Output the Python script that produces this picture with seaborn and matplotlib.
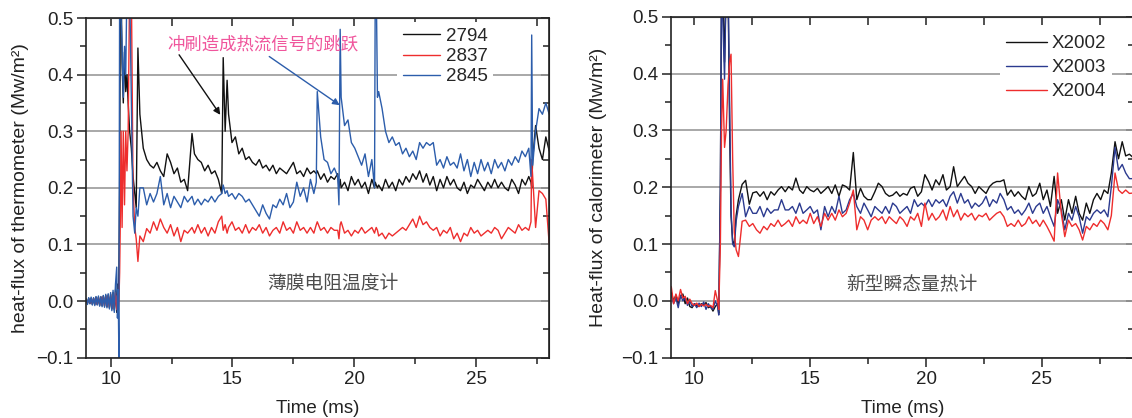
import matplotlib
matplotlib.use('Agg')
import matplotlib.pyplot as plt
import seaborn as sns
from matplotlib.ticker import MultipleLocator, FuncFormatter

# ---------------- left panel: thin-film thermometers ----------------
t_left_pre = [9.00, 9.05, 9.10, 9.15, 9.20, 9.25, 9.30, 9.35, 9.40, 9.45,
              9.50, 9.55, 9.60, 9.65, 9.70, 9.75, 9.80, 9.85, 9.90, 9.95,
              10.00, 10.05, 10.10, 10.15, 10.20, 10.25,
              10.28, 10.31, 10.34, 10.37, 10.40, 10.43, 10.47, 10.52, 10.57,
              10.62, 10.67, 10.72, 10.78, 10.85, 10.92, 10.99, 11.05, 11.12]
t_left_body = [11.20, 11.34, 11.48, 11.62, 11.76, 11.90, 12.04, 12.18, 12.32, 12.46,
               12.60, 12.74, 12.88, 13.02, 13.16, 13.34, 13.44, 13.58, 13.72, 13.86,
               14.00, 14.14, 14.28, 14.42, 14.56, 14.62, 14.70, 14.78, 14.84, 14.98,
               15.12, 15.26, 15.40, 15.54, 15.68, 15.82, 15.96, 16.10, 16.24, 16.38,
               16.52, 16.66, 16.80, 16.94, 17.08, 17.22, 17.36, 17.50, 17.64, 17.78,
               17.92, 18.06, 18.20, 18.34, 18.44, 18.48, 18.62, 18.76, 18.90, 19.04,
               19.18, 19.32, 19.37, 19.42, 19.46, 19.60, 19.74, 19.88, 20.02, 20.16,
               20.30, 20.44, 20.58, 20.72, 20.83, 20.86, 20.90, 20.95, 21.00, 21.14,
               21.28, 21.42, 21.56, 21.70, 21.84, 21.98, 22.12, 22.26, 22.40, 22.54,
               22.68, 22.82, 22.96, 23.10, 23.24, 23.38, 23.52, 23.66, 23.80, 23.94,
               24.08, 24.22, 24.36, 24.50, 24.64, 24.78, 24.92, 25.06, 25.20, 25.34,
               25.48, 25.62, 25.76, 25.90, 26.04, 26.18, 26.32, 26.46, 26.60, 26.74,
               26.88, 27.02, 27.16, 27.25, 27.28, 27.32, 27.44, 27.58, 27.72, 27.86,
               28.00]

s2794_pre = [0.003, -0.004, 0.005, -0.004, 0.005, -0.006, 0.005, -0.006, 0.007, -0.006,
             0.007, -0.008, 0.007, -0.008, 0.009, -0.009, 0.010, -0.010, 0.011, -0.012,
             0.012, -0.014, 0.015, -0.016, 0.020, -0.020,
             0.03, -0.02, 0.05, 0.20, 0.56, 0.56, 0.42, 0.35, 0.44, 0.37, 0.40, 0.35,
             0.30, 0.27, 0.22, 0.19, 0.165, 0.447]
s2794_body = [0.33, 0.27, 0.25, 0.24, 0.235, 0.245, 0.23, 0.22, 0.26, 0.245,
              0.225, 0.235, 0.21, 0.215, 0.195, 0.296, 0.26, 0.25, 0.245, 0.23,
              0.24, 0.225, 0.23, 0.215, 0.19, 0.43, 0.30, 0.39, 0.33, 0.28,
              0.29, 0.26, 0.27, 0.25, 0.255, 0.245, 0.24, 0.25, 0.235, 0.24,
              0.23, 0.24, 0.225, 0.235, 0.23, 0.225, 0.235, 0.245, 0.225, 0.23,
              0.22, 0.235, 0.225, 0.23, 0.225, 0.23, 0.215, 0.225, 0.21, 0.22,
              0.215, 0.225, 0.20, 0.215, 0.20, 0.21, 0.195, 0.22, 0.205, 0.215,
              0.20, 0.21, 0.19, 0.215, 0.20, 0.21, 0.205, 0.20, 0.205, 0.195,
              0.215, 0.20, 0.21, 0.195, 0.215, 0.205, 0.22, 0.21, 0.225, 0.215,
              0.23, 0.21, 0.225, 0.205, 0.22, 0.195, 0.215, 0.20, 0.22, 0.205,
              0.215, 0.20, 0.195, 0.21, 0.19, 0.205, 0.20, 0.215, 0.205, 0.195,
              0.21, 0.20, 0.215, 0.20, 0.21, 0.20, 0.195, 0.215, 0.205, 0.19,
              0.215, 0.205, 0.22, 0.21, 0.20, 0.25, 0.31, 0.27, 0.25, 0.29,
              0.265]

s2837_pre = [0.002, -0.003, 0.003, -0.004, 0.004, -0.004, 0.005, -0.005, 0.005, -0.006,
             0.006, -0.006, 0.007, -0.007, 0.008, -0.008, 0.008, -0.009, 0.009, -0.010,
             0.010, -0.012, 0.012, -0.013, 0.015, -0.015,
             0.01, -0.02, 0.00, 0.05, 0.15, 0.30, 0.13, 0.30, 0.17, 0.30, 0.23, 0.30,
             0.56, 0.56, 0.20, 0.13, 0.11, 0.07]
s2837_body = [0.115, 0.105, 0.128, 0.12, 0.14, 0.125, 0.145, 0.13, 0.12, 0.135,
              0.115, 0.13, 0.105, 0.125, 0.12, 0.13, 0.12, 0.135, 0.12, 0.13,
              0.115, 0.13, 0.12, 0.14, 0.15, 0.125, 0.135, 0.12, 0.13, 0.14,
              0.125, 0.13, 0.12, 0.135, 0.12, 0.13, 0.125, 0.135, 0.12, 0.13,
              0.115, 0.125, 0.13, 0.12, 0.14, 0.125, 0.13, 0.12, 0.14, 0.125,
              0.13, 0.12, 0.13, 0.12, 0.135, 0.14, 0.125, 0.13, 0.12, 0.13,
              0.125, 0.125, 0.11, 0.135, 0.14, 0.12, 0.125, 0.115, 0.125, 0.12,
              0.13, 0.12, 0.125, 0.13, 0.12, 0.125, 0.13, 0.125, 0.115, 0.12,
              0.11, 0.12, 0.115, 0.12, 0.125, 0.13, 0.125, 0.135, 0.145, 0.13,
              0.15, 0.135, 0.14, 0.13, 0.125, 0.13, 0.115, 0.125, 0.12, 0.13,
              0.11, 0.12, 0.105, 0.12, 0.115, 0.13, 0.12, 0.125, 0.115, 0.12,
              0.125, 0.12, 0.13, 0.125, 0.11, 0.12, 0.13, 0.125, 0.12, 0.135,
              0.125, 0.13, 0.125, 0.14, 0.25, 0.22, 0.13, 0.195, 0.19, 0.18,
              0.10]

s2845_pre = [0.004, -0.006, 0.006, -0.005, 0.007, -0.007, 0.006, -0.008, 0.008, -0.007,
             0.009, -0.009, 0.008, -0.010, 0.010, -0.011, 0.012, -0.012, 0.013, -0.014,
             0.015, -0.017, 0.019, -0.020, 0.030, 0.060,
             -0.03, 0.02, -0.10, 0.56, 0.56, 0.50, 0.45, 0.36, 0.45, 0.40, 0.56, 0.56,
             0.56, 0.35, 0.15, 0.12, 0.165, 0.15]
s2845_body = [0.20, 0.20, 0.17, 0.19, 0.175, 0.19, 0.22, 0.17, 0.19, 0.165,
              0.185, 0.175, 0.165, 0.185, 0.175, 0.185, 0.17, 0.18, 0.17, 0.18,
              0.175, 0.185, 0.175, 0.185, 0.19, 0.205, 0.19, 0.195, 0.185, 0.19,
              0.18, 0.19, 0.185, 0.175, 0.18, 0.17, 0.16, 0.15, 0.17, 0.155,
              0.145, 0.17, 0.165, 0.18, 0.17, 0.19, 0.165, 0.175, 0.21, 0.185,
              0.20, 0.175, 0.215, 0.19, 0.21, 0.37, 0.29, 0.25, 0.245, 0.225,
              0.235, 0.22, 0.17, 0.48, 0.36, 0.31, 0.32, 0.28, 0.27, 0.255,
              0.24, 0.26, 0.22, 0.25, 0.20, 0.56, 0.56, 0.36, 0.37, 0.34,
              0.30, 0.28, 0.29, 0.275, 0.28, 0.26, 0.27, 0.255, 0.265, 0.25,
              0.28, 0.27, 0.28, 0.275, 0.28, 0.24, 0.25, 0.235, 0.255, 0.24,
              0.245, 0.235, 0.26, 0.23, 0.25, 0.22, 0.245, 0.225, 0.25, 0.23,
              0.245, 0.225, 0.25, 0.235, 0.245, 0.23, 0.25, 0.24, 0.255, 0.245,
              0.265, 0.255, 0.27, 0.22, 0.47, 0.24, 0.30, 0.34, 0.33, 0.35,
              0.33]

# ---------------- right panel: new transient calorimeters ----------------
t_right_pre = [9.0, 9.1, 9.2, 9.3, 9.4, 9.5, 9.6, 9.7, 9.8, 9.9,
               10.0, 10.1, 10.2, 10.3, 10.4, 10.5, 10.6, 10.7, 10.8, 10.9, 11.0,
               11.05, 11.12, 11.17, 11.22, 11.30, 11.37, 11.45, 11.52, 11.58,
               11.65, 11.72, 11.80, 11.90]
t_right_body = [12.06, 12.21, 12.37, 12.52, 12.68, 12.83, 12.99, 13.14, 13.30, 13.45,
                13.61, 13.76, 13.92, 14.07, 14.23, 14.38, 14.54, 14.69, 14.85, 15.00,
                15.15, 15.31, 15.46, 15.62, 15.77, 15.93, 16.08, 16.24, 16.39, 16.55,
                16.70, 16.86, 17.01, 17.17, 17.32, 17.48, 17.63, 17.79, 17.94, 18.10,
                18.25, 18.41, 18.56, 18.72, 18.87, 19.02, 19.18, 19.33, 19.49, 19.64,
                19.80, 19.95, 20.11, 20.26, 20.42, 20.57, 20.73, 20.88, 21.04, 21.19,
                21.35, 21.50, 21.66, 21.81, 21.97, 22.12, 22.28, 22.43, 22.59, 22.74,
                22.89, 23.05, 23.20, 23.36, 23.51, 23.67, 23.82, 23.98, 24.13, 24.29,
                24.44, 24.60, 24.75, 24.91, 25.06, 25.22, 25.37, 25.53, 25.68, 25.84,
                25.99, 26.15, 26.30, 26.46, 26.61, 26.76, 26.92, 27.07, 27.23, 27.38,
                27.54, 27.69, 27.85, 28.00, 28.16, 28.31, 28.47, 28.62, 28.78, 29.00]

x2002_pre = [0.015, 0.0, 0.01, -0.005, 0.008, 0.012, -0.005, 0.005, -0.01, -0.012,
             -0.005, -0.008, -0.01, -0.005, -0.008, -0.003, -0.012, -0.01, -0.018, -0.01, -0.005,
             -0.022, 0.20, 0.56, 0.56, 0.42, 0.56, 0.56, 0.30, 0.15, 0.105, 0.10, 0.15, 0.178]
x2002_body = [0.205, 0.212, 0.17, 0.19, 0.192, 0.184, 0.192, 0.178, 0.192, 0.186,
              0.195, 0.201, 0.192, 0.201, 0.195, 0.216, 0.195, 0.189, 0.201, 0.195,
              0.192, 0.198, 0.189, 0.195, 0.201, 0.189, 0.204, 0.184, 0.204, 0.201,
              0.195, 0.261, 0.178, 0.198, 0.184, 0.178, 0.178, 0.192, 0.207, 0.201,
              0.189, 0.184, 0.186, 0.192, 0.184, 0.189, 0.186, 0.198, 0.201, 0.184,
              0.192, 0.222, 0.21, 0.195, 0.213, 0.204, 0.222, 0.195, 0.201, 0.236,
              0.201, 0.21, 0.219, 0.207, 0.201, 0.189, 0.201, 0.195, 0.189, 0.201,
              0.207, 0.21, 0.21, 0.213, 0.186, 0.195, 0.184, 0.192, 0.184, 0.178,
              0.201, 0.184, 0.189, 0.207, 0.178, 0.195, 0.166, 0.219, 0.154, 0.178,
              0.142, 0.178, 0.154, 0.184, 0.154, 0.142, 0.172, 0.154, 0.178, 0.189,
              0.178, 0.195, 0.189, 0.225, 0.28, 0.25, 0.28, 0.255, 0.258, 0.25]

x2003_pre = [0.01, -0.005, 0.005, -0.012, 0.01, 0.0, 0.005, -0.008, 0.0, -0.01,
             -0.005, -0.012, -0.004, -0.01, -0.002, -0.015, -0.005, -0.012, -0.015, 0.0, -0.01,
             -0.025, 0.20, 0.56, 0.50, 0.39, 0.56, 0.56, 0.35, 0.16, 0.10, 0.095, 0.14, 0.166]
x2003_body = [0.189, 0.148, 0.166, 0.154, 0.154, 0.166, 0.148, 0.163, 0.154, 0.16,
              0.16, 0.178, 0.16, 0.16, 0.166, 0.154, 0.172, 0.154, 0.16, 0.166,
              0.154, 0.16, 0.125, 0.166, 0.148, 0.166, 0.154, 0.184, 0.154, 0.16,
              0.178, 0.189, 0.166, 0.154, 0.172, 0.16, 0.148, 0.166, 0.16, 0.154,
              0.166, 0.154, 0.172, 0.166, 0.154, 0.16, 0.166, 0.154, 0.178, 0.166,
              0.172, 0.166, 0.178, 0.166, 0.178, 0.172, 0.178, 0.166, 0.184, 0.192,
              0.172, 0.189, 0.172, 0.178, 0.163, 0.172, 0.166, 0.172, 0.184, 0.166,
              0.178, 0.172, 0.189, 0.178, 0.16, 0.166, 0.154, 0.16, 0.151, 0.16,
              0.172, 0.154, 0.166, 0.172, 0.154, 0.166, 0.148, 0.131, 0.178, 0.16,
              0.125, 0.154, 0.142, 0.166, 0.148, 0.119, 0.148, 0.142, 0.154, 0.16,
              0.154, 0.16, 0.148, 0.201, 0.27, 0.23, 0.24, 0.225, 0.215, 0.215]

x2004_pre = [0.025, -0.005, 0.012, 0.0, 0.02, 0.005, 0.008, -0.005, 0.003, -0.005,
             -0.008, -0.004, -0.01, -0.006, -0.009, -0.006, -0.01, -0.008, -0.012, 0.018, 0.0,
             -0.015, 0.10, 0.30, 0.39, 0.27, 0.30, 0.38, 0.42, 0.434, 0.25, 0.12, 0.09, 0.078]
x2004_body = [0.14, 0.142, 0.131, 0.136, 0.125, 0.119, 0.131, 0.125, 0.136, 0.131,
              0.142, 0.131, 0.136, 0.142, 0.131, 0.148, 0.136, 0.142, 0.136, 0.154,
              0.136, 0.148, 0.131, 0.154, 0.142, 0.154, 0.142, 0.16, 0.148, 0.154,
              0.172, 0.195, 0.125, 0.148, 0.142, 0.125, 0.142, 0.148, 0.142, 0.148,
              0.136, 0.148, 0.142, 0.136, 0.148, 0.142, 0.131, 0.148, 0.142, 0.154,
              0.131, 0.172, 0.142, 0.154, 0.142, 0.148, 0.16, 0.142, 0.166, 0.148,
              0.16, 0.142, 0.154, 0.148, 0.154, 0.142, 0.151, 0.148, 0.154, 0.142,
              0.148, 0.154, 0.157, 0.148, 0.131, 0.136, 0.131, 0.142, 0.131, 0.136,
              0.148, 0.136, 0.142, 0.131, 0.142, 0.131, 0.119, 0.105, 0.225, 0.154,
              0.113, 0.142, 0.131, 0.136, 0.125, 0.107, 0.131, 0.125, 0.136, 0.131,
              0.142, 0.136, 0.125, 0.15, 0.225, 0.195, 0.189, 0.195, 0.189, 0.19]

left_labels = ['2794', '2837', '2845']
left_colors = ['#111111', '#ee2d2d', '#2c5dab']
right_labels = ['X2002', 'X2003', 'X2004']
right_colors = ['#111111', '#2b3a8f', '#ee2d2d']

sns.set_style('white')
plt.rcParams['font.family'] = ['Liberation Sans', 'Noto Sans CJK SC']
CJK = ['Noto Sans CJK SC', 'Liberation Sans']

fig = plt.figure(figsize=(11.32, 4.18), dpi=100)
ax1 = fig.add_axes([0.0762, 0.1443, 0.409, 0.8126])
ax2 = fig.add_axes([0.5930, 0.1443, 0.4092, 0.8158])


def fmt_y(v, pos):
    s = '%.1f' % (0.0 if abs(v) < 1e-9 else v)
    return s.replace('-', '\u2212')


def style_axes(ax, xmax, ylabel, ypad):
    ax.set_xlim(9, xmax)
    ax.set_ylim(-0.1, 0.5)
    ax.xaxis.set_major_locator(MultipleLocator(5))
    ax.xaxis.set_minor_locator(MultipleLocator(2.5))
    ax.yaxis.set_major_locator(MultipleLocator(0.1))
    ax.yaxis.set_minor_locator(MultipleLocator(0.05))
    ax.yaxis.set_major_formatter(FuncFormatter(fmt_y))
    ax.tick_params(which='both', bottom=True, left=True, top=False, right=False)
    ax.tick_params(which='major', direction='out', length=6.5, width=1.1,
                   labelsize=13.5, colors='#222222', pad=3)
    ax.tick_params(which='minor', direction='out', length=4, width=1.1, colors='#222222')
    ax.set_axisbelow(True)
    ax.yaxis.grid(True, color='#9a9a9a', lw=1.2)
    ax.xaxis.grid(False)
    for sp in ax.spines.values():
        sp.set_color('#222222')
        sp.set_linewidth(1.2)
    # inward mirror ticks on top and right
    top = ax.secondary_xaxis('top')
    top.xaxis.set_major_locator(MultipleLocator(2.5))
    top.tick_params(which='major', top=True, direction='in', length=6, width=1.1,
                    labeltop=False, colors='#222222')
    right = ax.secondary_yaxis('right')
    right.yaxis.set_major_locator(MultipleLocator(0.1))
    right.yaxis.set_minor_locator(MultipleLocator(0.05))
    right.tick_params(which='both', right=True, direction='in', width=1.1,
                      labelright=False, colors='#222222')
    right.tick_params(which='major', length=6)
    right.tick_params(which='minor', length=4)
    ax.set_xlabel('Time (ms)', fontsize=13.5, color='#222222', labelpad=9)
    ax.set_ylabel(ylabel, fontsize=14, color='#222222', labelpad=ypad)


# left panel
t_left = t_left_pre + t_left_body
for vals, c, lab in zip([s2794_pre + s2794_body, s2837_pre + s2837_body, s2845_pre + s2845_body],
                        left_colors, left_labels):
    sns.lineplot(x=t_left, y=vals, ax=ax1, color=c, lw=1.0, label=lab,
                 estimator=None, sort=False)
style_axes(ax1, 28, 'heat-flux of thermometer (Mw/m²)', 5)
leg1 = ax1.legend(loc='upper left', bbox_to_anchor=(0.671, 0.988), frameon=True,
                  facecolor='white', edgecolor='none', framealpha=1, fancybox=False,
                  fontsize=13.5, handlelength=2.0, handletextpad=0.3, labelspacing=0.17,
                  borderpad=0.3, borderaxespad=0)
leg1.set_zorder(1.5)
ax1.text(12.33, 0.4536, '冲刷造成热流信号的跳跃', color='#f0559c', fontsize=12.5,
         family=CJK, va='center', ha='left')
ax1.text(16.44, 0.0324, '薄膜电阻温度计', color='#4d4d4d', fontsize=13.5,
         family=CJK, va='center', ha='left')
ax1.annotate('', xy=(14.50, 0.329), xytext=(12.81, 0.435),
             arrowprops=dict(arrowstyle='-|>', color='#111111', lw=1.0,
                             mutation_scale=10, shrinkA=0, shrinkB=0))
ax1.annotate('', xy=(19.40, 0.346), xytext=(16.51, 0.432),
             arrowprops=dict(arrowstyle='-|>', color='#2c5dab', lw=1.0,
                             mutation_scale=10, shrinkA=0, shrinkB=0))

# right panel
t_right = t_right_pre + t_right_body
for vals, c, lab in zip([x2002_pre + x2002_body, x2003_pre + x2003_body, x2004_pre + x2004_body],
                        right_colors, right_labels):
    sns.lineplot(x=t_right, y=vals, ax=ax2, color=c, lw=1.0, label=lab,
                 estimator=None, sort=False)
style_axes(ax2, 29, 'Heat-flux of calorimeter (Mw/m²)', 10)
leg2 = ax2.legend(loc='upper left', bbox_to_anchor=(0.7096, 0.962), frameon=True,
                  facecolor='white', edgecolor='none', framealpha=1, fancybox=False,
                  fontsize=13.5, handlelength=2.2, handletextpad=0.25, labelspacing=0.36,
                  borderpad=0.3, borderaxespad=0)
leg2.set_zorder(1.5)
ax2.text(19.4, 0.0306, '新型瞬态量热计', color='#4d4d4d', fontsize=13.5,
         family=CJK, va='center', ha='center')

fig.savefig('out.png', dpi=100)
